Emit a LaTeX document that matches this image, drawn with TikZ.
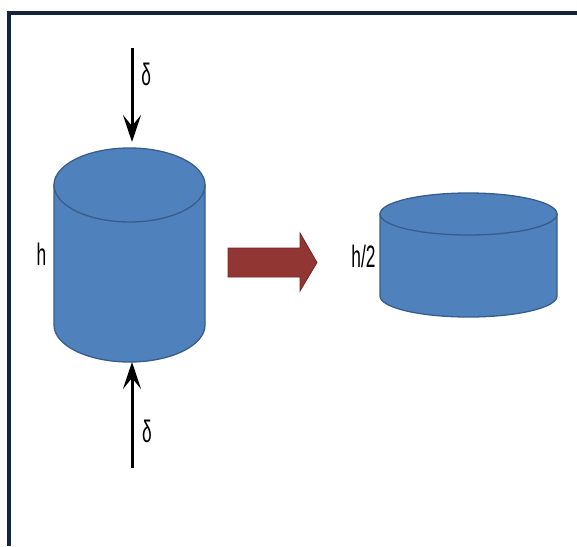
\documentclass[tikz,border=0pt]{standalone}
\usepackage{fontspec}
\setmainfont{Liberation Sans}
\definecolor{cylblue}{RGB}{79,129,189}
\definecolor{cylborder}{RGB}{56,93,138}
\definecolor{arrowred}{RGB}{146,54,52}
\definecolor{arrowborder}{RGB}{112,40,38}
\definecolor{framenavy}{RGB}{20,36,60}
\usetikzlibrary{arrows.meta}

\tikzset{
  cyl/.style={fill=cylblue,draw=cylborder,line width=1.3pt},
  push/.style={line width=3pt,-{Stealth[length=27pt,width=18pt,inset=11pt]}},
  lbl/.style={inner sep=0pt,text=black,font=\fontsize{31}{31}\selectfont},
}
\newcommand{\narrow}[1]{\scalebox{0.56}[1]{#1}}

% name, centre x, top y, bottom y, x radius, y radius
\newcommand{\drawcyl}[6]{%
  \filldraw[cyl] (#2-#5,#3) -- (#2-#5,#4)
    arc[start angle=180,end angle=0,x radius=#5,y radius=#6] -- (#2+#5,#3) -- cycle;
  \filldraw[cyl] (#2,#3) ellipse[x radius=#5,y radius=#6];
  \coordinate (#1-top) at (#2,#3-#6);
  \coordinate (#1-bot) at (#2,#4+#6);
}

\begin{document}
\begin{tikzpicture}[x=1pt,y=-1pt]
    \useasboundingbox (0,0) rectangle (577,546);
    \draw[framenavy,line width=3.5pt] (9,546) -- (9,13) -- (577,13);

    % tall cylinder before, flat one after
    \drawcyl{tall}{129.5}{185}{325}{75.5}{37}
    \drawcyl{flat}{468.5}{214}{296}{88.5}{21}

    % load on top and bottom
    \coordinate (loadtop) at (132,48);
    \coordinate (loadbot) at (132,468);
    \draw[push,shorten >=6pt] (loadtop) -- (loadtop |- tall-top);
    \draw[push] (loadbot) -- (loadbot |- tall-bot);
    \node[lbl] (dtop) at (146.3,74) {\narrow{δ}};
    \node[lbl] (dbot) at (147,431) {\narrow{δ}};

    \node[lbl] (hfull) at (41.4,254.7) {\narrow{h}};
    \node[lbl] (hhalf) at (363.5,256) {\narrow{h/2}};

    % block arrow between the two states
    \coordinate (squash) at (228,262.5);
    \filldraw[fill=arrowred,draw=arrowborder,line width=0.8pt]
      (squash) ++(0,-14.5) -- ++(72,0) -- ++(0,-15) -- ++(17,29.5)
      -- ++(-17,28.5) -- ++(0,-14) -- ++(-72,0) -- cycle;
\end{tikzpicture}
\end{document}
